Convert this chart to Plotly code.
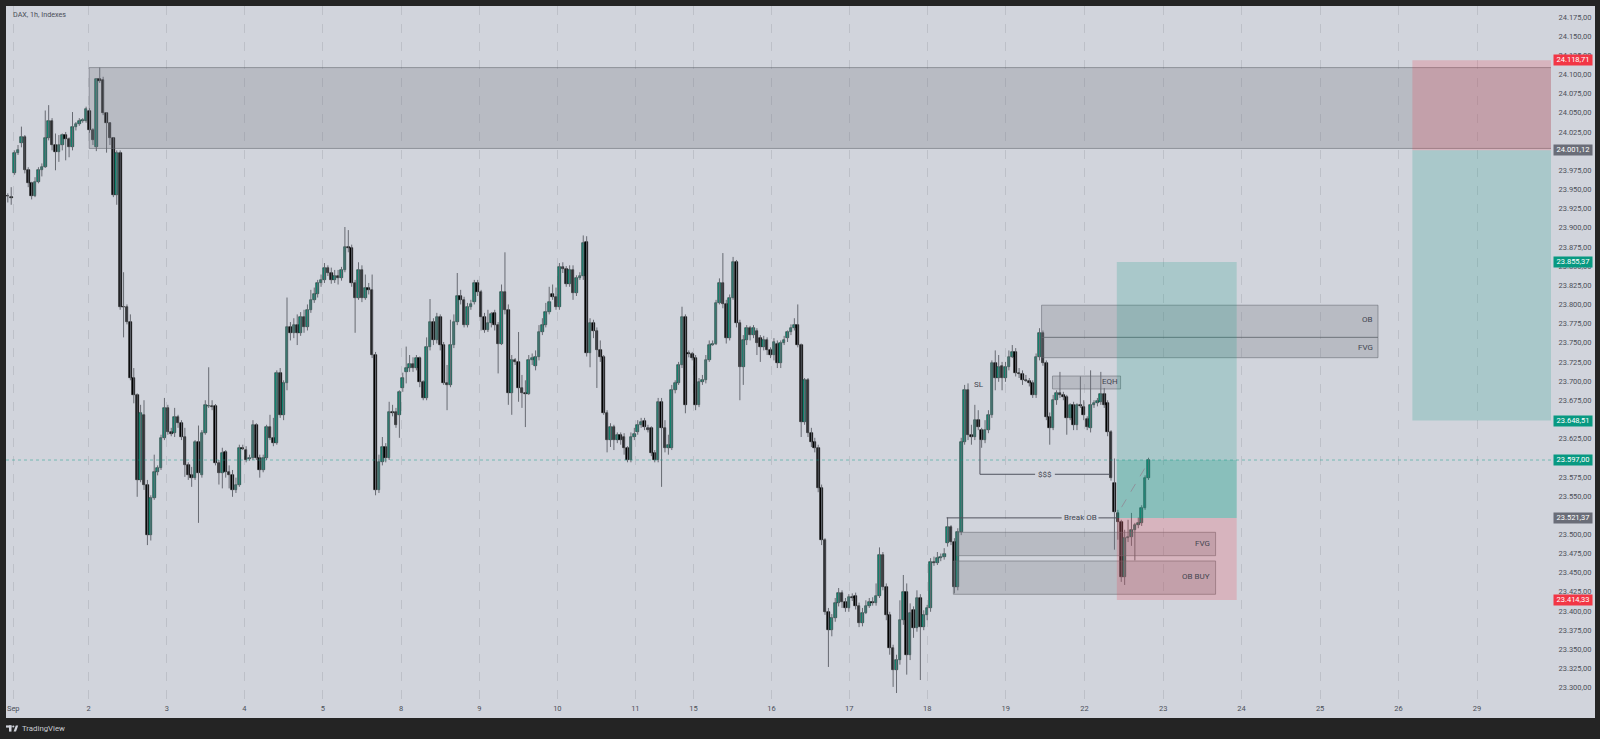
import plotly.graph_objects as go

# ---------------- DATA (DAX 1h, bar index 0 = first visible bar of Sep 1) ----------------
opens = [
    23942, 23940, 23971, 23997, 24010, 24018, 23975, 23958, 23942, 23960,
    23975, 23979, 24017, 24039, 24008, 23999, 24008, 24021, 24016, 24005,
    24031, 24035, 24039, 24039, 24053, 24027, 24005, 24094, 24093, 24050,
    24037, 24017, 23943, 23998, 23797, 23797, 23777, 23704, 23682, 23571,
    23656, 23565, 23499, 23548, 23581, 23586, 23626, 23665, 23633, 23632,
    23653, 23645, 23627, 23590, 23578, 23574, 23620, 23578, 23632, 23667,
    23668, 23667, 23593, 23580, 23607, 23581, 23577, 23558, 23565, 23613,
    23610, 23598, 23599, 23643, 23599, 23584, 23599, 23640, 23626, 23619,
    23710, 23656, 23697, 23770, 23763, 23773, 23763, 23784, 23770, 23793,
    23806, 23813, 23828, 23832, 23848, 23841, 23832, 23837, 23835, 23845,
    23875, 23874, 23828, 23809, 23845, 23809, 23822, 23819, 23734, 23558,
    23594, 23614, 23599, 23660, 23660,
    23656, 23691, 23712, 23717, 23722, 23717, 23730, 23699, 23678, 23744,
    23777, 23753, 23784, 23747, 23697, 23695, 23747, 23777, 23811, 23806,
    23773, 23797, 23803, 23828, 23816, 23784, 23767, 23776, 23789, 23773,
    23749, 23816, 23793, 23684, 23727, 23725, 23691, 23684, 23683, 23727,
    23720, 23731, 23764, 23773, 23790, 23813, 23810, 23797, 23849, 23846,
    23827, 23845, 23815, 23834, 23837, 23882, 23736, 23776, 23765, 23740,
    23731, 23658, 23623, 23640, 23623, 23630, 23627, 23613, 23597, 23627,
    23633, 23643, 23648, 23639, 23639, 23606, 23597, 23673, 23639, 23613,
    23613, 23688, 23697, 23721, 23784, 23736, 23735, 23730, 23669, 23699,
    23701, 23727, 23747, 23749, 23802, 23828, 23800, 23756, 23809, 23855,
    23776, 23718, 23753, 23769, 23760, 23765, 23756, 23744, 23753, 23740,
    23734, 23749,
    23723, 23750, 23756, 23764, 23769, 23773, 23747, 23647, 23701, 23632,
    23620, 23613, 23561, 23493, 23399, 23375, 23391, 23410, 23423, 23412,
    23404, 23418, 23420, 23407, 23384, 23397, 23407, 23412, 23411, 23420,
    23473, 23431, 23395, 23352, 23323, 23336, 23388, 23425, 23343, 23401,
    23378, 23417, 23379, 23395, 23404, 23464, 23463, 23469, 23470, 23489,
    23509, 23490, 23431, 23503, 23620, 23688, 23630, 23627, 23649, 23636,
    23623, 23636, 23656, 23723, 23704, 23720, 23704, 23718, 23732, 23738,
    23710, 23709, 23701, 23700, 23697, 23682, 23731, 23763, 23723, 23653,
    23639, 23675, 23684, 23682, 23679, 23652, 23669, 23643, 23669, 23666,
    23651, 23639, 23669, 23671, 23673, 23683, 23671, 23633, 23567, 23528,
    23516, 23445, 23495, 23497, 23506, 23512, 23515, 23534, 23574,
]

highs = [
    23945, 23953, 24001, 24008, 24032, 24021, 23979, 23960, 23966, 23979,
    23984, 24053, 24060, 24043, 24023, 24021, 24023, 24025, 24018, 24051,
    24038, 24043, 24043, 24058, 24056, 24030, 24095, 24109, 24097, 24051,
    24038, 24018, 24001, 24001, 23842, 23800, 23787, 23717, 23684, 23669,
    23675, 23571, 23551, 23604, 23590, 23630, 23678, 23669, 23639, 23665,
    23656, 23649, 23639, 23594, 23588, 23623, 23642, 23636, 23675, 23718,
    23675, 23670, 23597, 23613, 23610, 23590, 23584, 23574, 23617, 23617,
    23615, 23604, 23649, 23645, 23604, 23604, 23643, 23656, 23652, 23714,
    23717, 23701, 23809, 23777, 23782, 23787, 23790, 23793, 23800, 23819,
    23822, 23832, 23839, 23854, 23851, 23848, 23845, 23845, 23849, 23901,
    23897, 23878, 23832, 23855, 23851, 23839, 23828, 23839, 23738, 23604,
    23627, 23619, 23673, 23669, 23665,
    23688, 23711, 23745, 23734, 23731, 23734, 23732, 23701, 23757, 23807,
    23782, 23789, 23787, 23751, 23721, 23780, 23787, 23841, 23819, 23810,
    23802, 23806, 23832, 23832, 23819, 23789, 23793, 23790, 23793, 23777,
    23826, 23868, 23800, 23734, 23730, 23764, 23708, 23701, 23734, 23736,
    23740, 23773, 23782, 23802, 23823, 23826, 23822, 23854, 23855, 23850,
    23851, 23851, 23838, 23842, 23890, 23889, 23782, 23780, 23770, 23753,
    23734, 23662, 23645, 23643, 23633, 23633, 23632, 23615, 23633, 23639,
    23649, 23652, 23652, 23643, 23641, 23610, 23678, 23678, 23649, 23630,
    23695, 23701, 23725, 23797, 23787, 23740, 23738, 23734, 23704, 23708,
    23734, 23753, 23753, 23806, 23834, 23867, 23806, 23813, 23862, 23858,
    23780, 23760, 23773, 23772, 23773, 23769, 23760, 23759, 23757, 23744,
    23756, 23753,
    23753, 23759, 23766, 23774, 23782, 23800, 23749, 23704, 23704, 23639,
    23626, 23617, 23565, 23495, 23404, 23396, 23417, 23430, 23427, 23417,
    23422, 23423, 23424, 23411, 23404, 23414, 23417, 23418, 23436, 23483,
    23477, 23436, 23399, 23356, 23343, 23414, 23447, 23436, 23410, 23406,
    23427, 23422, 23401, 23408, 23469, 23471, 23477, 23475, 23482, 23522,
    23512, 23495, 23508, 23626, 23695, 23697, 23643, 23669, 23662, 23639,
    23649, 23662, 23727, 23740, 23734, 23725, 23725, 23740, 23747, 23743,
    23717, 23714, 23708, 23704, 23701, 23736, 23769, 23766, 23727, 23659,
    23682, 23688, 23712, 23686, 23682, 23671, 23673, 23671, 23706, 23675,
    23654, 23714, 23675, 23678, 23712, 23691, 23675, 23636, 23599, 23532,
    23519, 23506, 23519, 23528, 23515, 23522, 23538, 23577, 23600,
]

lows = [
    23933, 23930, 23969, 23995, 24005, 23971, 23953, 23937, 23940, 23958,
    23967, 23978, 24014, 24001, 23975, 23986, 24001, 23988, 23992, 24001,
    24027, 24033, 24037, 24037, 24024, 24008, 24000, 24089, 24047, 23998,
    24008, 23940, 23930, 23793, 23757, 23774, 23701, 23671, 23549, 23568,
    23558, 23486, 23492, 23545, 23577, 23584, 23623, 23630, 23628, 23627,
    23639, 23623, 23575, 23571, 23562, 23571, 23515, 23574, 23630, 23665,
    23662, 23590, 23565, 23560, 23574, 23560, 23549, 23554, 23562, 23610,
    23594, 23596, 23597, 23597, 23574, 23581, 23597, 23623, 23615, 23617,
    23652, 23649, 23688, 23753, 23756, 23747, 23759, 23763, 23766, 23789,
    23802, 23809, 23823, 23828, 23837, 23827, 23828, 23826, 23831, 23842,
    23868, 23823, 23763, 23806, 23803, 23806, 23813, 23730, 23551, 23554,
    23590, 23594, 23597, 23654, 23639,
    23626, 23686, 23697, 23712, 23712, 23714, 23692, 23675, 23675, 23740,
    23747, 23749, 23740, 23695, 23662, 23692, 23743, 23773, 23800, 23770,
    23770, 23793, 23800, 23811, 23766, 23763, 23764, 23770, 23766, 23710,
    23747, 23787, 23669, 23656, 23721, 23673, 23665, 23640, 23682, 23721,
    23714, 23727, 23760, 23770, 23787, 23806, 23793, 23793, 23841, 23823,
    23823, 23806, 23811, 23832, 23832, 23732, 23718, 23756, 23691, 23725,
    23656, 23607, 23614, 23610, 23619, 23617, 23604, 23594, 23594, 23623,
    23630, 23639, 23636, 23633, 23602, 23594, 23594, 23562, 23607, 23604,
    23610, 23684, 23695, 23717, 23658, 23731, 23727, 23662, 23666, 23695,
    23697, 23725, 23746, 23747, 23800, 23795, 23749, 23753, 23806, 23770,
    23675, 23695, 23747, 23753, 23756, 23734, 23725, 23740, 23734, 23730,
    23727, 23717,
    23717, 23747, 23751, 23760, 23766, 23744, 23627, 23643, 23627, 23614,
    23607, 23555, 23486, 23395, 23327, 23367, 23386, 23406, 23404, 23399,
    23399, 23413, 23402, 23379, 23380, 23396, 23404, 23407, 23407, 23417,
    23427, 23388, 23343, 23301, 23293, 23330, 23382, 23317, 23336, 23365,
    23373, 23310, 23375, 23388, 23399, 23459, 23460, 23465, 23467, 23484,
    23486, 23423, 23427, 23499, 23617, 23623, 23617, 23623, 23636, 23613,
    23619, 23632, 23652, 23688, 23699, 23688, 23699, 23714, 23730, 23706,
    23704, 23695, 23699, 23693, 23678, 23678, 23727, 23720, 23649, 23617,
    23636, 23669, 23678, 23675, 23630, 23649, 23636, 23636, 23665, 23649,
    23636, 23633, 23665, 23667, 23669, 23665, 23628, 23570, 23480, 23493,
    23438, 23434, 23490, 23485, 23466, 23508, 23511, 23532, 23571,
]

closes = [
    23941, 23939, 23997, 24001, 24018, 23975, 23958, 23942, 23960, 23975,
    23979, 24017, 24039, 24008, 23999, 24008, 24021, 24016, 24005, 24031,
    24035, 24039, 24040, 24055, 24027, 24014, 24094, 24092, 24050, 24037,
    24017, 23943, 23998, 23796, 23796, 23777, 23704, 23682, 23571, 23658,
    23565, 23499, 23548, 23581, 23586, 23626, 23665, 23633, 23631, 23653,
    23645, 23627, 23590, 23578, 23574, 23620, 23580, 23632, 23669, 23668,
    23666, 23593, 23580, 23606, 23581, 23577, 23558, 23565, 23613, 23612,
    23597, 23599, 23643, 23599, 23584, 23599, 23640, 23626, 23619, 23710,
    23656, 23697, 23770, 23763, 23773, 23763, 23784, 23770, 23793, 23806,
    23813, 23828, 23832, 23848, 23841, 23832, 23837, 23835, 23845, 23875,
    23873, 23828, 23809, 23845, 23809, 23822, 23819, 23734, 23558, 23594,
    23614, 23599, 23660, 23658, 23643,
    23686, 23704, 23717, 23722, 23717, 23730, 23699, 23678, 23744, 23777,
    23753, 23784, 23747, 23697, 23695, 23747, 23777, 23811, 23806, 23773,
    23797, 23800, 23828, 23816, 23784, 23767, 23776, 23787, 23773, 23749,
    23816, 23793, 23684, 23727, 23725, 23691, 23684, 23683, 23727, 23730,
    23731, 23764, 23773, 23790, 23803, 23810, 23797, 23849, 23846, 23827,
    23845, 23815, 23834, 23837, 23880, 23736, 23776, 23765, 23740, 23731,
    23658, 23623, 23640, 23623, 23630, 23623, 23613, 23597, 23627, 23631,
    23643, 23647, 23640, 23636, 23606, 23597, 23673, 23639, 23613, 23617,
    23688, 23697, 23721, 23784, 23669, 23735, 23730, 23669, 23699, 23701,
    23727, 23747, 23749, 23802, 23828, 23800, 23756, 23809, 23855, 23776,
    23718, 23753, 23769, 23760, 23769, 23750, 23744, 23753, 23740, 23734,
    23751, 23723,
    23750, 23753, 23764, 23769, 23773, 23747, 23647, 23701, 23632, 23620,
    23613, 23561, 23493, 23399, 23375, 23391, 23410, 23423, 23412, 23404,
    23418, 23417, 23407, 23384, 23397, 23407, 23412, 23411, 23420, 23473,
    23431, 23395, 23352, 23323, 23336, 23388, 23425, 23343, 23397, 23378,
    23417, 23379, 23395, 23404, 23464, 23463, 23469, 23470, 23475, 23509,
    23490, 23431, 23503, 23620, 23688, 23630, 23627, 23649, 23640, 23623,
    23636, 23656, 23723, 23704, 23718, 23704, 23718, 23732, 23738, 23710,
    23709, 23701, 23700, 23697, 23682, 23731, 23763, 23723, 23653, 23639,
    23675, 23684, 23682, 23679, 23652, 23669, 23643, 23669, 23667, 23656,
    23640, 23669, 23671, 23674, 23683, 23669, 23633, 23574, 23529, 23516,
    23445, 23495, 23497, 23506, 23512, 23515, 23534, 23574, 23597,
]

# date labels on the time axis (bar-index positions of the first bar of each day)
date_positions = [1.6, 23.7, 46.7, 69.5, 92.5, 115.5, 138.5, 161.4, 184.3, 201.4,
                  224.3, 247.1, 270.0, 293.1, 316.2, 339.3, 362.3, 385.4, 408.4, 431.5]
date_labels = ['Sep', '2', '3', '4', '5', '8', '9', '10', '11', '15',
               '16', '17', '18', '19', '22', '23', '24', '25', '26', '29']

price_ticks = list(range(23300, 24176, 25))

# position-tool / level labels on the price scale
level_prices = [24118.71, 24001.12, 23855.37, 23648.51, 23597.00, 23521.37, 23414.33]
level_kinds = ['stop', 'entry', 'target', 'target', 'last', 'entry', 'stop']

last_price = 23597.00

# ---------------- helpers ----------------
def fmt(v):
    s = f"{v:,.2f}"
    return s.replace(',', 'X').replace('.', ',').replace('X', '.')

W, H = 1600, 739
L_PX, R_PX, T_PX, B_PX = 6, 1551, 6, 702
def px_x(px):
    return (px - L_PX) / (R_PX - L_PX)
def px_y(py):
    return (B_PX - py) / (B_PX - T_PX)

n = min(len(opens), len(highs), len(lows), len(closes))
xs = list(range(n))

BG = '#d1d4dc'
FRAME = '#242424'
UP = '#128c77'
DOWN = '#000000'
TXT = '#434651'
AX = '#4c5059'

fig = go.Figure()

# wicks
wx, wy = [], []
for i in xs:
    wx += [i, i, None]
    wy += [lows[i], highs[i], None]
fig.add_trace(go.Scatter(x=wx, y=wy, mode='lines', line=dict(color='#676a72', width=1),
                         hoverinfo='skip'))

# bodies
bases, heights, cols, lcols = [], [], [], []
for i in xs:
    o, c = opens[i], closes[i]
    lo = min(o, c)
    h = max(abs(c - o), 0.9)
    bases.append(lo)
    heights.append(h)
    up = c > o
    cols.append(UP if up else DOWN)
    lcols.append('#15302b' if up else DOWN)
fig.add_trace(go.Bar(x=xs, y=heights, base=bases, width=0.78,
                     marker=dict(color=cols, line=dict(color=lcols, width=0.6)),
                     hoverinfo='skip'))

shapes = []
# light chart canvas (plot + scales)
shapes.append(dict(type='rect', xref='paper', yref='paper', x0=0, x1=px_x(1595),
                   y0=px_y(718), y1=1, fillcolor=BG, line=dict(width=0), layer='below'))

ZONE_FILL = 'rgba(120,123,134,0.28)'
ZONE_LINE = 'rgba(100,103,112,0.55)'
RED = 'rgba(242,54,69,0.2)'
GREEN = 'rgba(8,153,129,0.2)'

def rect(x0, x1, y0, y1, fill, line=None):
    d = dict(type='rect', xref='x', yref='y', x0=x0, x1=x1, y0=y0, y1=y1,
             fillcolor=fill, layer='above')
    d['line'] = dict(color=line, width=1) if line else dict(width=0)
    shapes.append(d)

def seg(x0, y0, x1, y1, color='#50535e', dash='solid', xref='x'):
    shapes.append(dict(type='line', xref=xref, yref='y', x0=x0, y0=y0, x1=x1, y1=y1,
                       line=dict(color=color, width=1, dash=dash), layer='above'))

# supply zone at the top
rect(23.9, 480, 24003.5, 24109, ZONE_FILL, ZONE_LINE)
# short position on the right
rect(412.5, 480, 24001.12, 24118.71, RED)
rect(412.5, 480, 23648.51, 24001.12, GREEN)
# OB / FVG upper
rect(303.6, 402.4, 23757, 23799, ZONE_FILL, ZONE_LINE)
rect(303.6, 402.4, 23730.5, 23757, ZONE_FILL, ZONE_LINE)
# EQH
rect(306.8, 326.8, 23689.7, 23706.6, ZONE_FILL, ZONE_LINE)
# FVG lower / OB BUY
rect(278.7, 354.7, 23472.2, 23502.7, ZONE_FILL, ZONE_LINE)
rect(277.7, 354.7, 23421.8, 23465.3, ZONE_FILL, ZONE_LINE)
# long position
rect(325.7, 360.9, 23521.37, 23855.37, GREEN)
rect(325.7, 360.9, 23414.33, 23521.37, RED)
rect(325.7, 360.9, 23521.37, last_price, GREEN)

# last price dotted line
shapes.append(dict(type='line', xref='paper', yref='y', x0=0, x1=1, y0=last_price, y1=last_price,
                   line=dict(color='rgba(8,153,129,0.45)', width=1, dash='dot'), layer='above'))

# $$$ liquidity line
seg(285.5, 23623, 285.5, 23578.4)
seg(285.5, 23578.4, 301.7, 23578.4)
seg(307.5, 23578.4, 323.7, 23578.4)
# Break OB line
seg(275.7, 23521.5, 309.5, 23521.5)
seg(320.3, 23521.5, 325.8, 23521.5)
# dashed P&L line
seg(327.1, 23535.5, 335.0, 23594.3, color='#8f939c', dash='dash')

# TradingView logo (bottom-left)
LOGO = '#d1d4dc'
shapes.append(dict(type='rect', xref='paper', yref='paper', x0=px_x(6), x1=px_x(11.5),
                   y0=px_y(727.6), y1=px_y(725.4), fillcolor=LOGO, line=dict(width=0)))
shapes.append(dict(type='rect', xref='paper', yref='paper', x0=px_x(9), x1=px_x(11.5),
                   y0=px_y(731.6), y1=px_y(725.4), fillcolor=LOGO, line=dict(width=0)))
shapes.append(dict(type='circle', xref='paper', yref='paper', x0=px_x(12.2), x1=px_x(14.4),
                   y0=px_y(727.6), y1=px_y(725.4), fillcolor=LOGO, line=dict(width=0)))
shapes.append(dict(type='path', xref='paper', yref='paper',
                   path=f"M {px_x(13.6)} {px_y(731.6)} L {px_x(15.8)} {px_y(725.4)} "
                        f"L {px_x(18.2)} {px_y(725.4)} L {px_x(16.0)} {px_y(731.6)} Z",
                   fillcolor=LOGO, line=dict(width=0)))

annotations = []
annotations.append(dict(text='DAX, 1h, Indexes', xref='paper', yref='paper', x=px_x(10.5),
                        y=px_y(14.7), xanchor='left', yanchor='middle', showarrow=False,
                        font=dict(size=7.2, color='#4a4d57')))
annotations.append(dict(text='TradingView', xref='paper', yref='paper', x=px_x(19.5),
                        y=px_y(728.6), xanchor='left', yanchor='middle', showarrow=False,
                        font=dict(size=7.8, color='#c9ccd3')))

def label(text, x, y, xanchor='center'):
    annotations.append(dict(text=text, xref='x', yref='y', x=x, y=y, xanchor=xanchor,
                            yanchor='middle', showarrow=False, font=dict(size=8, color=TXT)))

label('OB', 401.5, 23779.7, 'right')
label('FVG', 401.5, 23744.0, 'right')
label('EQH', 323.6, 23699.2)
label('SL', 285.3, 23696.0)
label('&#36;&#36;&#36;', 304.6, 23578.4)
label('Break OB', 315.1, 23521.5)
label('FVG', 353.75, 23488.4, 'right')
label('OB BUY', 353.75, 23444.8, 'right')

kind_color = {'stop': '#f23645', 'entry': '#6a6d78', 'target': '#089981', 'last': '#089981'}
for p, k in zip(level_prices, level_kinds):
    annotations.append(dict(text=fmt(p), xref='paper', yref='y', x=px_x(1553.3), y=p,
                            xanchor='left', yanchor='middle', showarrow=False,
                            width=38, height=9.5, align='center', borderpad=0,
                            bgcolor=kind_color[k],
                            font=dict(size=7.5, color='#ffffff')))

fig.update_layout(
    width=W, height=H,
    margin=dict(l=L_PX, r=W - R_PX, t=T_PX, b=H - B_PX, pad=0),
    paper_bgcolor=FRAME, plot_bgcolor=BG,
    showlegend=False, hovermode=False, bargap=0,
    font=dict(family='Roboto, Liberation Sans, sans-serif', size=8, color=AX),
    shapes=shapes, annotations=annotations,
)
fig.update_xaxes(range=[-0.529, 453.21], tickmode='array', tickvals=date_positions,
                 ticktext=date_labels, showgrid=True, gridcolor='#bdc0c8', griddash='dash',
                 gridwidth=1, zeroline=False, showline=False, ticks='',
                 tickfont=dict(size=7.5, color=AX), rangeslider=dict(visible=False),
                 fixedrange=True)
fig.update_yaxes(range=[23281.3, 24189.35], side='right', tickmode='array',
                 tickvals=price_ticks, ticktext=[fmt(v) for v in price_ticks],
                 showgrid=False, zeroline=False, showline=False, ticks='outside',
                 ticklen=5, tickcolor='rgba(0,0,0,0)', tickfont=dict(size=7.5, color=AX),
                 fixedrange=True)

fig.write_html("out.html")
